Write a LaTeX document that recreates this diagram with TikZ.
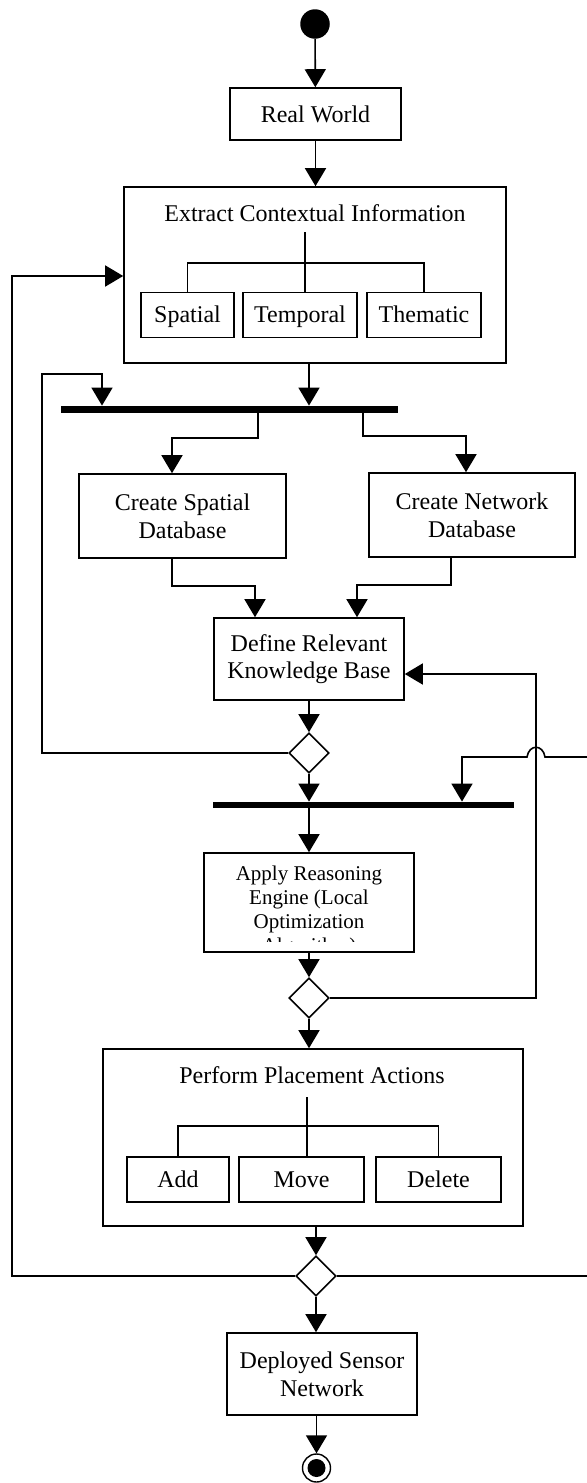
\documentclass[tikz,border=0pt]{standalone}
\usepackage{fontspec}
\setmainfont{Liberation Serif}
\usetikzlibrary{arrows.meta,positioning,shapes.geometric}

\begin{document}
\begin{tikzpicture}[
  x=0.5pt, y=-0.5pt,
  actbox/.style={rectangle, draw, line width=0.8pt, inner sep=0pt, align=center,
    font=\fontsize{12}{13.8}\selectfont},
  subbox/.style={rectangle, draw, line width=0.6pt, inner sep=0pt,
    minimum height=22.5pt, text height=8.5pt, text depth=1pt,
    font=\fontsize{12}{13.8}\selectfont},
  titletext/.style={inner sep=0pt, font=\fontsize{12}{13.8}\selectfont},
  forkbar/.style={rectangle, fill=black, inner sep=0pt},
  decision/.style={diamond, draw, line width=0.8pt, fill=white, inner sep=0pt,
    minimum size=20pt},
  flow/.style={line width=0.8pt},
  >={Triangle[length=9pt, width=10.5pt]}
]
\useasboundingbox (0,0) rectangle (587,1483);

\node[circle, fill=black, minimum size=14.75pt, inner sep=0pt] (start) at (315,24) {};
\node[actbox, minimum width=85.5pt, minimum height=26pt] (world) at (315.5,114) {Real World};
\node[actbox, minimum width=191pt, minimum height=88pt] (extract) at (315,275) {};
\node[titletext] (extitle) at (315,213) {Extract Contextual Information};
\node[subbox, minimum width=46.5pt] (spatial) at (187.5,315) {Spatial};
\node[subbox, minimum width=57pt] (temporal) at (300,315) {Temporal};
\node[subbox, minimum width=57pt] (thematic) at (424,315) {Thematic};
\node[forkbar, minimum width=168.5pt, minimum height=3.5pt] (forkA) at (229.5,409.5) {};
\node[actbox, minimum width=103.5pt, minimum height=42pt] (spatialdb) at (182.5,516) {Create Spatial\\Database};
\node[actbox, minimum width=103pt, minimum height=42pt] (networkdb) at (472,515) {Create Network\\Database};
\node[actbox, minimum width=95pt, minimum height=41pt] (define) at (309,659) {Define Relevant\\Knowledge Base};
\node[decision] (checkA) at (309,753) {};
\node[forkbar, minimum width=150.5pt, minimum height=3pt] (forkB) at (363.5,805) {};
\node[actbox, minimum width=105pt, minimum height=49.5pt] (apply) at (309,902.5) {};
\begin{scope}
  \clip (204,853) rectangle (414,941);
  \node[titletext, anchor=north, align=center, font=\fontsize{10.5}{12}\selectfont] (applytext) at (309,866)
    {Apply Reasoning\\Engine (Local\\Optimization\\Algorithm)};
\end{scope}
\node[decision] (checkB) at (309,998) {};
\node[actbox, minimum width=210pt, minimum height=88.5pt] (perform) at (313,1137.5) {};
\node[titletext] (pftitle) at (312,1075) {Perform Placement Actions};
\node[subbox, minimum width=51pt] (add) at (178,1179.5) {Add};
\node[subbox, minimum width=62.5pt] (move) at (301.5,1179.5) {Move};
\node[subbox, minimum width=62.5pt] (delete) at (438.5,1179.5) {Delete};
\node[decision] (checkC) at (316,1276) {};
\node[actbox, minimum width=95pt, minimum height=41pt] (deployed) at (322,1374) {Deployed Sensor\\Network};
\node[circle, draw, line width=0.7pt, fill=white, minimum size=14pt, inner sep=0pt] (stop) at (316.5,1468) {};
\node[circle, fill=black, minimum size=9pt, inner sep=0pt] (stopdot) at (stop) {};

\coordinate (exsplit) at (305,232);
\coordinate (exrail) at (305,263);
\coordinate (pfsplit) at (307,1097);
\coordinate (pfrail) at (307,1126);
\coordinate (loopA) at (42,374);
\coordinate (loopAin) at (102,374);
\coordinate (forkAl) at (258,438);
\coordinate (sdbin) at (172,438);
\coordinate (forkAr) at (363,436);
\coordinate (ndbin) at (466,436);
\coordinate (sdbout) at (172,586);
\coordinate (definl) at (255,586);
\coordinate (ndbout) at (451,585);
\coordinate (definr) at (357,585);
\coordinate (retA) at (536,998);
\coordinate (retAtop) at (536,674);
\coordinate (farR) at (593,1276);
\coordinate (farRtop) at (593,757);
\coordinate (hopR) at (545,757);
\coordinate (hopL) at (527,757);
\coordinate (forkBin) at (462,757);
\coordinate (farL) at (12,1276);
\coordinate (farLtop) at (12,276);

\draw[flow,->] (start) -- (world);
\draw[flow,->] (world) -- (world |- extract.north);
\draw[flow] (exsplit) -- (exsplit |- temporal.north);
\draw[flow] (spatial.north) -- (spatial.north |- exrail) -- (thematic.north |- exrail) -- (thematic.north);
\draw[flow,->] (extract.south -| define) -- (define |- forkA.north);
\draw[flow,->] (checkA.west) -| (loopA) -- (loopAin) -- (loopAin |- forkA.north);
\draw[flow,->] (forkAl |- forkA.south) -- (forkAl) -- (sdbin) -- (sdbin |- spatialdb.north);
\draw[flow,->] (forkAr |- forkA.south) -- (forkAr) -- (ndbin) -- (ndbin |- networkdb.north);
\draw[flow,->] (sdbout |- spatialdb.south) -- (sdbout) -- (definl) -- (definl |- define.north);
\draw[flow,->] (ndbout |- networkdb.south) -- (ndbout) -- (definr) -- (definr |- define.north);
\draw[flow,->] (define) -- (checkA);
\draw[flow,->] (checkA) -- (checkA |- forkB.north);
\draw[flow,->] (forkB.south -| apply) -- (apply);
\draw[flow,->] (apply) -- (checkB);
\draw[flow,->] (checkB) -- (checkB |- perform.north);
\draw[flow] (pfsplit) -- (pfsplit |- move.north);
\draw[flow] (add.north) -- (add.north |- pfrail) -- (delete.north |- pfrail) -- (delete.north);
\draw[flow,->] (perform.south -| checkC) -- (checkC);
\draw[flow,->] (checkC) -- (checkC |- deployed.north);
\draw[flow,->] (deployed.south -| stop) -- (stop);
\draw[flow,->] (checkB.east) -- (retA) -- (retAtop) -- (retAtop -| define.east);
\draw[flow,->] (checkC.east) -- (farR) -- (farRtop) -- (hopR) .. controls (543,744) and (529,744) .. (hopL) -- (forkBin) -- (forkBin |- forkB.north);
\draw[flow,->] (checkC.west) -- (farL) -- (farLtop) -- (farLtop -| extract.west);
\end{tikzpicture}
\end{document}
